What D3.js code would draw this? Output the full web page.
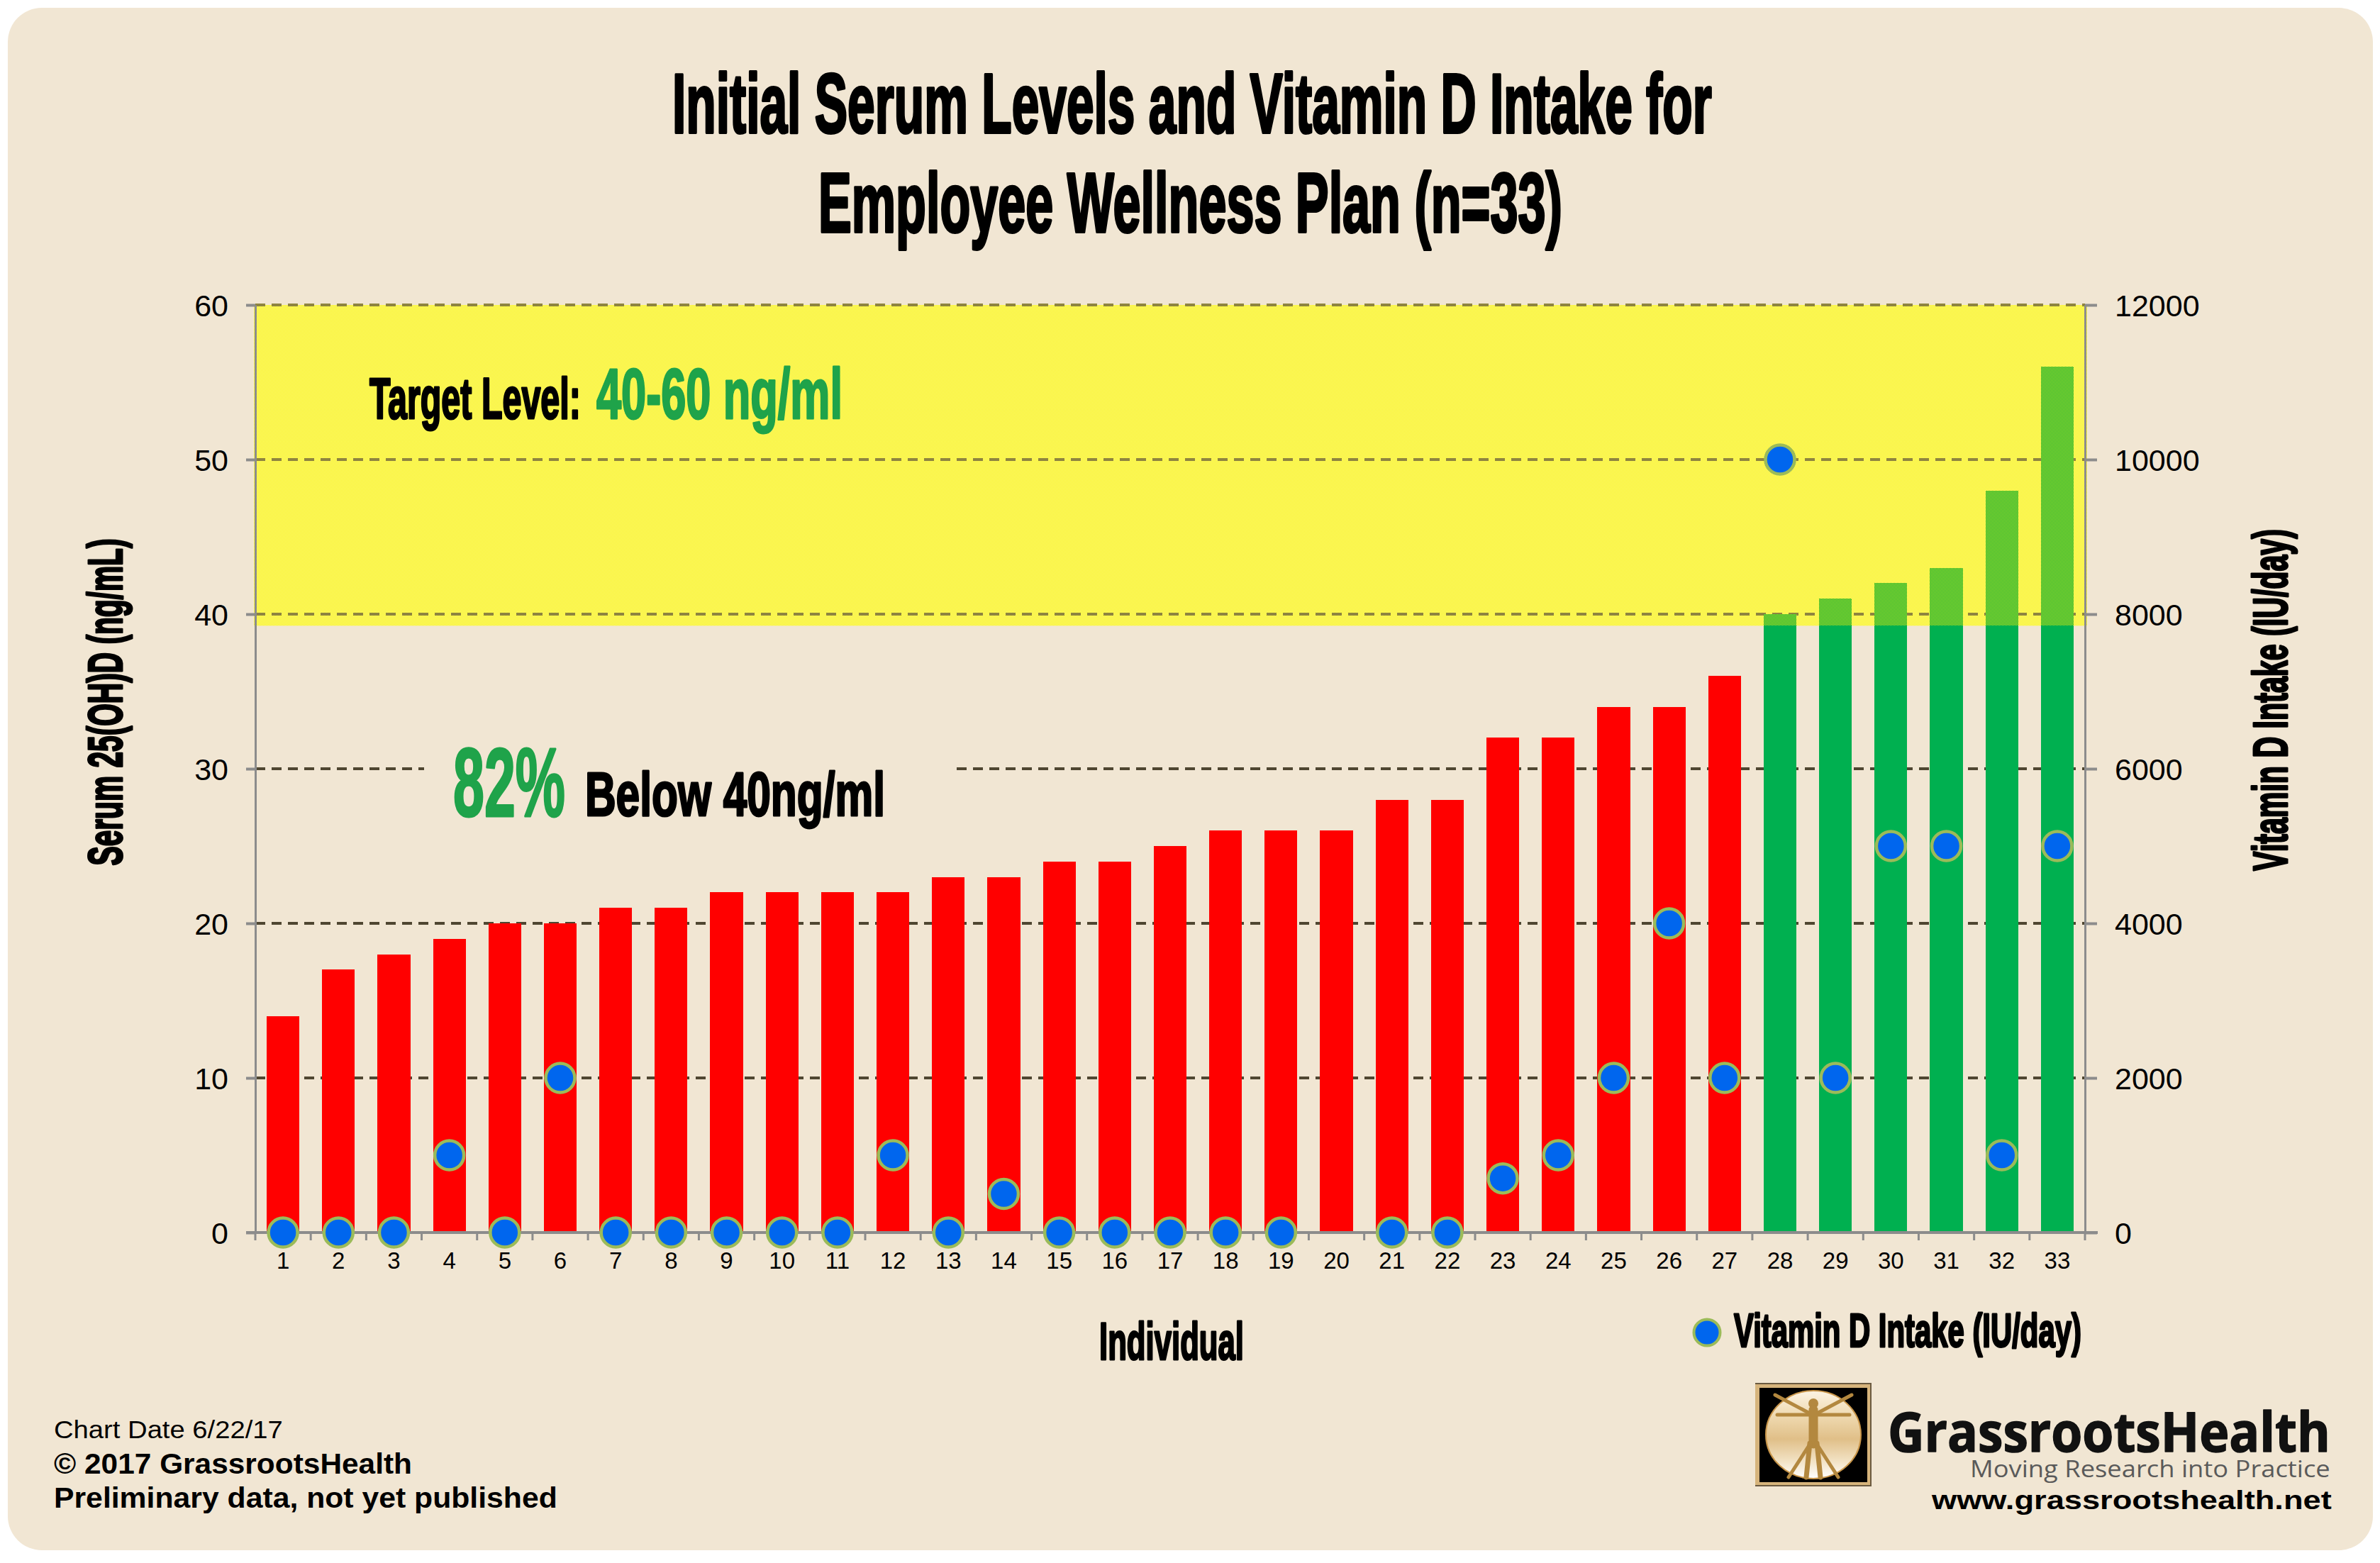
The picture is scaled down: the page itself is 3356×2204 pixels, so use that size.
<!DOCTYPE html>
<html>
<head>
<meta charset="utf-8">
<script src="https://cdn.jsdelivr.net/npm/d3@7"></script>
<style>
  html, body { margin: 0; padding: 0; background: #ffffff; }
  svg { display: block; }
</style>
</head>
<body>
<svg id="chart" width="3356" height="2204"></svg>
<script>
// ---------------- DATA ----------------
const individuals = [1,2,3,4,5,6,7,8,9,10,11,12,13,14,15,16,17,18,19,20,21,22,23,24,25,26,27,28,29,30,31,32,33];
const serumLevels = [14,17,18,19,20,20,21,21,22,22,22,22,23,23,24,24,25,26,26,26,28,28,32,32,34,34,36,40,41,42,43,48,56];
const vitaminDIntake = [0,0,0,1000,0,2000,0,0,0,0,0,1000,0,500,0,0,0,0,0,null,0,0,700,1000,2000,4000,2000,10000,2000,5000,5000,1000,5000];
const serumTicks = [0,10,20,30,40,50,60];
const intakeTicks = [0,2000,4000,6000,8000,10000,12000];
const targetLevel = 40;
const titleLines = ["Initial Serum Levels and Vitamin D Intake for", "Employee Wellness Plan (n=33)"];

// ---------------- LAYOUT ----------------
const L = 360, R = 2940, T = 430, B = 1738;
const COND = "'Liberation Sans Narrow', 'Liberation Sans', Arial, sans-serif";
const SANS = "'Liberation Sans', Arial, sans-serif";
const BEIGE = "#F1E6D3";
const GREEN_TXT = "#1FA34A";
const ZONE_LOW = 39.25;

const svg = d3.select("#chart");
const defs = svg.append("defs");

// dithered yellow pattern for the background of the target zone
const pat = defs.append("pattern").attr("id", "yel")
  .attr("patternUnits", "userSpaceOnUse").attr("width", 2).attr("height", 2);
pat.append("rect").attr("x", 0).attr("y", 0).attr("width", 2).attr("height", 2).attr("fill", "#ffff00").attr("fill-opacity", 0.25);
pat.append("rect").attr("x", 0).attr("y", 0).attr("width", 1).attr("height", 1).attr("fill", "#ffff00");
pat.append("rect").attr("x", 1).attr("y", 1).attr("width", 1).attr("height", 1).attr("fill", "#ffff00");

// dithered pattern for the part of green bars inside the target zone
const patB = defs.append("pattern").attr("id", "yelBar")
  .attr("patternUnits", "userSpaceOnUse").attr("width", 2).attr("height", 2);
patB.append("rect").attr("x", 0).attr("y", 0).attr("width", 2).attr("height", 2).attr("fill", "#00B050");
patB.append("rect").attr("x", 0).attr("y", 0).attr("width", 1).attr("height", 1).attr("fill", "#C4DE12");
patB.append("rect").attr("x", 1).attr("y", 1).attr("width", 1).attr("height", 1).attr("fill", "#C4DE12");

const og = defs.append("linearGradient").attr("id", "oval").attr("x1", 0).attr("y1", 0).attr("x2", 0).attr("y2", 1);
[["0%", "#FBF3E3"], ["30%", "#EED8AE"], ["55%", "#E0BF88"], ["80%", "#F2E2C4"], ["100%", "#FFFFFF"]]
  .forEach(([o, c]) => og.append("stop").attr("offset", o).attr("stop-color", c));

// background
svg.append("rect").attr("width", 3356).attr("height", 2204).attr("fill", "#ffffff");
svg.append("rect").attr("x", 11).attr("y", 11).attr("width", 3335).attr("height", 2175)
  .attr("rx", 48).attr("ry", 48).attr("fill", BEIGE);

// scales
const x = d3.scaleBand().domain(individuals).range([L, R]).paddingInner(0.41).paddingOuter(0.205);
const yL = d3.scaleLinear().domain([0, 60]).range([B, T]);
const yR = d3.scaleLinear().domain([0, 12000]).range([B, T]);

// text helper: condensed look obtained by horizontal scaling to a measured width
function txt(parent, o) {
  const t = parent.append("text")
    .attr("x", 0).attr("y", 0)
    .attr("font-family", o.family || COND)
    .attr("font-size", o.size)
    .attr("font-weight", o.weight || "bold")
    .attr("fill", o.fill || "#000")
    .attr("text-anchor", o.anchor || "start")
    .text(o.text);
  if (o.stroke) t.attr("stroke", o.fill || "#000").attr("stroke-width", o.stroke).attr("stroke-linejoin", "round");
  let sx = 1;
  if (o.len) {
    const nat = t.node().getComputedTextLength();
    if (nat > 0) sx = o.len / nat;
  }
  const rot = o.rotate ? ` rotate(${o.rotate})` : "";
  t.attr("transform", `translate(${o.x},${o.y})${rot} scale(${sx},1)`);
  return t;
}

// ---------------- TARGET ZONE (background part) ----------------
svg.append("rect").attr("x", 358).attr("y", yL(60)).attr("width", 2585)
  .attr("height", yL(ZONE_LOW) - yL(60)).attr("fill", "url(#yel)");

// ---------------- GRIDLINES ----------------
svg.append("g").selectAll("line").data(serumTicks.filter(d => d > 0)).join("line")
  .attr("x1", L).attr("x2", R)
  .attr("y1", d => yL(d)).attr("y2", d => yL(d))
  .attr("stroke", d => d >= ZONE_LOW ? "#8E8440" : "#4F4631")
  .attr("stroke-width", 4).attr("stroke-dasharray", "14,9");

// label box for "82% Below 40ng/ml"
svg.append("rect").attr("x", 598).attr("y", 1040).attr("width", 751).attr("height", 135).attr("fill", BEIGE);

// ---------------- AXES ----------------
const AX = "#8C8C8C";
const gL = svg.append("g").attr("transform", `translate(${L},0)`)
  .call(d3.axisLeft(yL).tickValues(serumTicks).tickSize(13).tickSizeOuter(0));
gL.select(".domain").attr("stroke", AX).attr("stroke-width", 3);
gL.selectAll(".tick line").attr("stroke", AX).attr("stroke-width", 4);
gL.selectAll(".tick text").attr("x", 322 - L).attr("dy", "0.36em")
  .attr("font-family", SANS).attr("font-size", 43).attr("fill", "#000");

const gR = svg.append("g").attr("transform", `translate(${R},0)`)
  .call(d3.axisRight(yR).tickValues(intakeTicks).tickFormat(d3.format("d")).tickSize(17).tickSizeOuter(0));
gR.select(".domain").attr("stroke", AX).attr("stroke-width", 3);
gR.selectAll(".tick line").attr("stroke", AX).attr("stroke-width", 4);
gR.selectAll(".tick text").attr("x", 2982 - R).attr("dy", "0.36em")
  .attr("font-family", SANS).attr("font-size", 43).attr("fill", "#000");

// ---------------- BARS ----------------
svg.append("g").selectAll("rect").data(individuals).join("rect")
  .attr("x", d => x(d))
  .attr("width", x.bandwidth())
  .attr("y", (d, i) => yL(serumLevels[i]))
  .attr("height", (d, i) => yL(0) - yL(serumLevels[i]))
  .attr("fill", (d, i) => serumLevels[i] >= targetLevel ? "#00B050" : "#FF0000")
  .attr("shape-rendering", "crispEdges");

// part of bars inside the target zone
svg.append("g").selectAll("rect")
  .data(individuals.map((d, i) => ({ id: d, v: serumLevels[i] })).filter(d => d.v > ZONE_LOW))
  .join("rect")
  .attr("x", d => x(d.id))
  .attr("width", x.bandwidth())
  .attr("y", d => yL(d.v))
  .attr("height", d => yL(ZONE_LOW) - yL(d.v))
  .attr("fill", "url(#yelBar)")
  .attr("shape-rendering", "crispEdges");

const gB = svg.append("g").attr("transform", `translate(0,${B})`)
  .call(d3.axisBottom(x).tickSize(0).tickSizeOuter(0));
gB.select(".domain").remove();
gB.selectAll(".tick text").attr("y", 1789 - B).attr("dy", 0)
  .attr("font-family", SANS).attr("font-size", 33).attr("fill", "#000");
// x axis line + boundary ticks
svg.append("line").attr("x1", 347).attr("x2", 2958).attr("y1", B).attr("y2", B)
  .attr("stroke", AX).attr("stroke-width", 4);
const bounds = individuals.map(d => x(d) - x.step() * x.paddingOuter()).concat([R]);
svg.append("g").selectAll("line").data(bounds).join("line")
  .attr("x1", d => d).attr("x2", d => d).attr("y1", B).attr("y2", B + 11)
  .attr("stroke", AX).attr("stroke-width", 3);

// ---------------- DOTS ----------------
const dotData = individuals.map((d, i) => ({ id: d, v: vitaminDIntake[i] })).filter(d => d.v !== null);
svg.append("g").selectAll("circle").data(dotData).join("circle")
  .attr("cx", d => x(d.id) + x.bandwidth() / 2)
  .attr("cy", d => yR(d.v))
  .attr("r", 20.5)
  .attr("fill", "#0066EE").attr("stroke", "#9BBB59").attr("stroke-width", 4.5);

// ---------------- TEXT ----------------
txt(svg, { x: 948, y: 187, text: titleLines[0], size: 119, len: 1466, stroke: 4 });
txt(svg, { x: 1154, y: 327, text: titleLines[1], size: 119, len: 1049, stroke: 4 });

txt(svg, { x: 172, y: 990, rotate: -90, text: "Serum 25(OH)D (ng/mL)", size: 68, len: 461, stroke: 3, anchor: "middle" });
txt(svg, { x: 3225, y: 987, rotate: -90, text: "Vitamin D Intake (IU/day)", size: 68, len: 482, stroke: 3, anchor: "middle" });
txt(svg, { x: 1550, y: 1917, text: "Individual", size: 75, len: 204, stroke: 3 });

// legend
svg.append("circle").attr("cx", 2407).attr("cy", 1879).attr("r", 18.5)
  .attr("fill", "#0066EE").attr("stroke", "#9BBB59").attr("stroke-width", 4);
txt(svg, { x: 2445, y: 1899, text: "Vitamin D Intake (IU/day)", size: 66, len: 490, stroke: 3 });

// annotations
txt(svg, { x: 521, y: 590, text: "Target Level:", size: 82, len: 298, stroke: 3 });
txt(svg, { x: 841, y: 590, text: "40-60 ng/ml", size: 100, len: 347, stroke: 3, fill: GREEN_TXT });
txt(svg, { x: 639, y: 1151, text: "82%", size: 137, len: 158, stroke: 3, fill: GREEN_TXT });
txt(svg, { x: 825, y: 1150, text: "Below 40ng/ml", size: 88, len: 423, stroke: 3 });

// footer left
txt(svg, { x: 76, y: 2028, text: "Chart Date 6/22/17", size: 36, len: 323, weight: "normal" });
txt(svg, { x: 76, y: 2078, text: "\u00A9 2017 GrassrootsHealth", size: 40, len: 505 });
txt(svg, { x: 76, y: 2126, text: "Preliminary data, not yet published", size: 40, len: 710 });

// ---------------- LOGO ----------------
const lg = svg.append("g");
lg.append("rect").attr("x", 2475).attr("y", 1950).attr("width", 164).attr("height", 146).attr("fill", "#D6B47C");
lg.append("line").attr("x1", 2475).attr("x2", 2639).attr("y1", 2095).attr("y2", 2095).attr("stroke", "#6B5A40").attr("stroke-width", 2);
lg.append("line").attr("x1", 2638).attr("x2", 2638).attr("y1", 1950).attr("y2", 2096).attr("stroke", "#6B5A40").attr("stroke-width", 2);
lg.append("line").attr("x1", 2475).attr("x2", 2639).attr("y1", 1951).attr("y2", 1951).attr("stroke", "#6B5A40").attr("stroke-width", 2);
lg.append("rect").attr("x", 2481).attr("y", 1957).attr("width", 152).attr("height", 133).attr("fill", "#000");
lg.append("ellipse").attr("cx", 2557).attr("cy", 2023).attr("rx", 67).attr("ry", 62)
  .attr("fill", "url(#oval)").attr("stroke", "#C9964A").attr("stroke-width", 2);
const FIG = "#B3883F";
lg.append("circle").attr("cx", 2557).attr("cy", 1979).attr("r", 7).attr("fill", FIG);
[["M2557 1988 L2557 2036", 13], ["M2506 1995 L2608 1995", 5], ["M2550 1992 L2503 1967", 5],
 ["M2564 1992 L2611 1967", 5], ["M2552 2035 L2547 2083", 7], ["M2562 2035 L2567 2083", 7],
 ["M2553 2035 L2522 2083", 5], ["M2561 2035 L2592 2083", 5]]
  .forEach(([p, w]) => lg.append("path").attr("d", p).attr("stroke", FIG).attr("stroke-width", w)
    .attr("stroke-linecap", "round").attr("fill", "none"));

txt(svg, { x: 2662, y: 2047, text: "GrassrootsHealth", size: 77, len: 624, family: "'Open Sans', 'Noto Sans', sans-serif", fill: "#111", stroke: 1.5 });
txt(svg, { x: 2778, y: 2083, text: "Moving Research into Practice", size: 32, len: 508, weight: "normal", family: "'Open Sans', 'Noto Sans', sans-serif", fill: "#5A5A5A" });
txt(svg, { x: 2724, y: 2128, text: "www.grassrootshealth.net", size: 37, len: 564 });
</script>
</body>
</html>
